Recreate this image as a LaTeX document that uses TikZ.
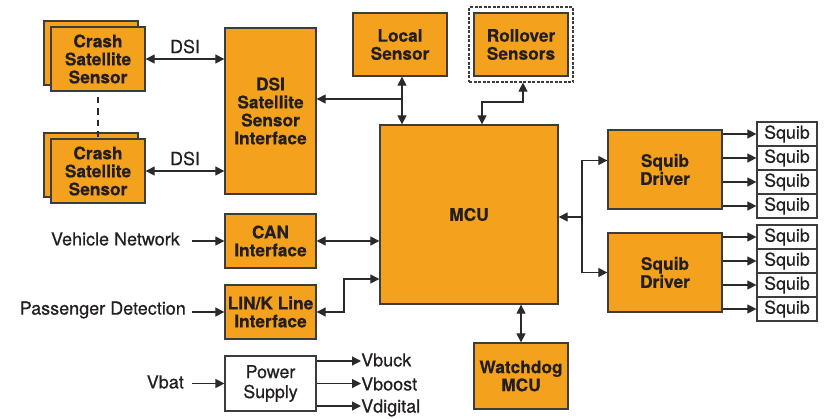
\documentclass[tikz,border=0pt]{standalone}
\usepackage{fontspec}
\setmainfont{TeX Gyre Heros}[BoldFeatures={FakeBold=0.4}]
\newfontfamily\medfont{TeX Gyre Heros}[FakeBold=0.6]
\usetikzlibrary{arrows.meta}
\definecolor{orangec}{HTML}{F4A11D}
\definecolor{bordc}{HTML}{3C3C3C}
\definecolor{txtc}{HTML}{231F20}
\definecolor{linec}{HTML}{2A2A2A}
\tikzset{
 box/.style={draw=bordc, line width=1.3pt, fill=orangec, align=center, font=\bfseries\fontsize{17.3}{18}\selectfont, inner sep=0pt, text=txtc},
 wbox/.style={draw=bordc, line width=1.2pt, fill=white, align=center, font=\medfont\fontsize{17.8}{20}\selectfont, inner sep=0pt, text=txtc},
 lbl/.style={font=\medfont\fontsize{18}{20}\selectfont, text=txtc, inner sep=0pt},
 conn/.style={draw=linec, line width=1.2pt},
 ar/.style={conn, -{Triangle[length=9pt,width=9pt]}},
 bar/.style={conn, {Triangle[length=9pt,width=9pt]}-{Triangle[length=9pt,width=9pt]}},
}
\begin{document}
\begin{tikzpicture}[x=1pt,y=-1pt]
\useasboundingbox (0,0) rectangle (825,418);
% crash sensors
\node[box, minimum width=94pt, minimum height=64pt] (cs1b) at (91,53) {};
\node[box, minimum width=94pt, minimum height=64pt] (cs1) at (98,59) {Crash\\Satellite\\Sensor};
\node[box, minimum width=94pt, minimum height=64pt] (cs2b) at (91,165) {};
\node[box, minimum width=94pt, minimum height=64pt] (cs2) at (98,171) {Crash\\Satellite\\Sensor};
\draw[conn, line width=2.2pt, dash pattern=on 6.5pt off 5pt] ([yshift=-5pt]cs1.south) -- ([yshift=-5pt]cs2b.north -| cs1.south);
% DSI interface
\node[box, minimum width=91pt, minimum height=166pt] (dsi) at (270.5,111) {DSI\\Satellite\\Sensor\\Interface};
\draw[bar] (cs1.east) -- (cs1.east -| dsi.west) node[lbl, midway, above=5pt] (dsil1) {DSI};
\draw[bar] (cs2.east) -- (cs2.east -| dsi.west) node[lbl, midway, above=5pt] (dsil2) {DSI};
% local sensor, rollover
\node[box, minimum width=94pt, minimum height=63pt] (loc) at (400,44.5) {Local\\Sensor};
\node[box, minimum width=94pt, minimum height=63pt] (rol) at (521,44.5) {Rollover\\Sensors};
\node[draw=bordc, line width=1.2pt, dash pattern=on 3pt off 1.5pt, minimum width=104pt, minimum height=75pt, inner sep=0pt] (rold) at (521,44.5) {};
% MCU
\node[box, minimum width=178pt, minimum height=179pt] (mcu) at (469,214.5) {MCU};
\coordinate (lj) at (402,99);
\draw[bar] (loc.south -| lj) -- (mcu.north -| lj);
\draw[ar] (lj) -- (lj -| dsi.east);
\coordinate (rj) at (482,102);
\draw[bar] (rold.south -| 523,0) |- (rj) -- (rj |- mcu.north);
% CAN, LIN
\node[box, minimum width=91pt, minimum height=54pt] (can) at (270.5,241) {CAN\\Interface};
\node[box, minimum width=91pt, minimum height=54pt] (lin) at (270.5,312) {LIN/K Line\\Interface};
\draw[bar] (can.east) -- (can.east -| mcu.west);
\coordinate (lj2) at (344,279);
\draw[bar] (lin.east) -| (lj2) -- (lj2 -| mcu.west);
\node[lbl, anchor=east] (vn) at (180,239) {Vehicle Network};
\node[lbl, anchor=east] (pd) at (186,310) {Passenger Detection};
\draw[ar] (can.west -| 192,0) -- (can.west);
\draw[ar] (lin.west -| 192,0) -- (lin.west);
% power supply
\node[wbox, minimum width=91pt, minimum height=55pt] (ps) at (270.5,383.5) {Power\\Supply};
\node[lbl, anchor=east] (vbat) at (184,382) {Vbat};
\draw[ar] (ps.west -| 192,0) -- (ps.west);
\node[lbl, anchor=west] (vbuck) at (361,360) {Vbuck};
\node[lbl, anchor=west] (vboost) at (361,384) {Vboost};
\node[lbl, anchor=west] (vdig) at (361,408) {Vdigital};
\draw[ar] (ps.east |- 0,361) -- (361,361);
\draw[ar] (ps.east |- 0,383.5) -- (361,383.5);
\draw[ar] (ps.east |- 0,406) -- (361,406);
% watchdog
\node[box, minimum width=94pt, minimum height=66pt] (wd) at (521,376) {Watchdog\\MCU};
\draw[bar] (mcu.south -| wd.north) -- (wd.north);
% squib drivers
\node[box, minimum width=114pt, minimum height=79pt] (drv1) at (665,169.5) {Squib\\Driver};
\node[box, minimum width=114pt, minimum height=79pt] (drv2) at (665,272.5) {Squib\\Driver};
\coordinate (dj) at (582,217);
\draw[ar] (dj) -- (dj -| mcu.east);
\draw[ar] (dj) |- ([yshift=9pt]drv1.west);
\draw[ar] (dj) |- (drv2.west);
% squibs
\foreach \i/\yy in {1/134,2/158,3/182,4/206} {
  \node[wbox, minimum width=60pt, minimum height=24pt] (sqa\i) at (787,\yy) {Squib};
  \draw[ar] (drv1.east |- sqa\i.west) -- (sqa\i.west);
}
\foreach \i/\yy in {1/237,2/261,3/285,4/309} {
  \node[wbox, minimum width=60pt, minimum height=24pt] (sqb\i) at (787,\yy) {Squib};
  \draw[ar] (drv2.east |- sqb\i.west) -- (sqb\i.west);
}
\end{tikzpicture}
\end{document}
